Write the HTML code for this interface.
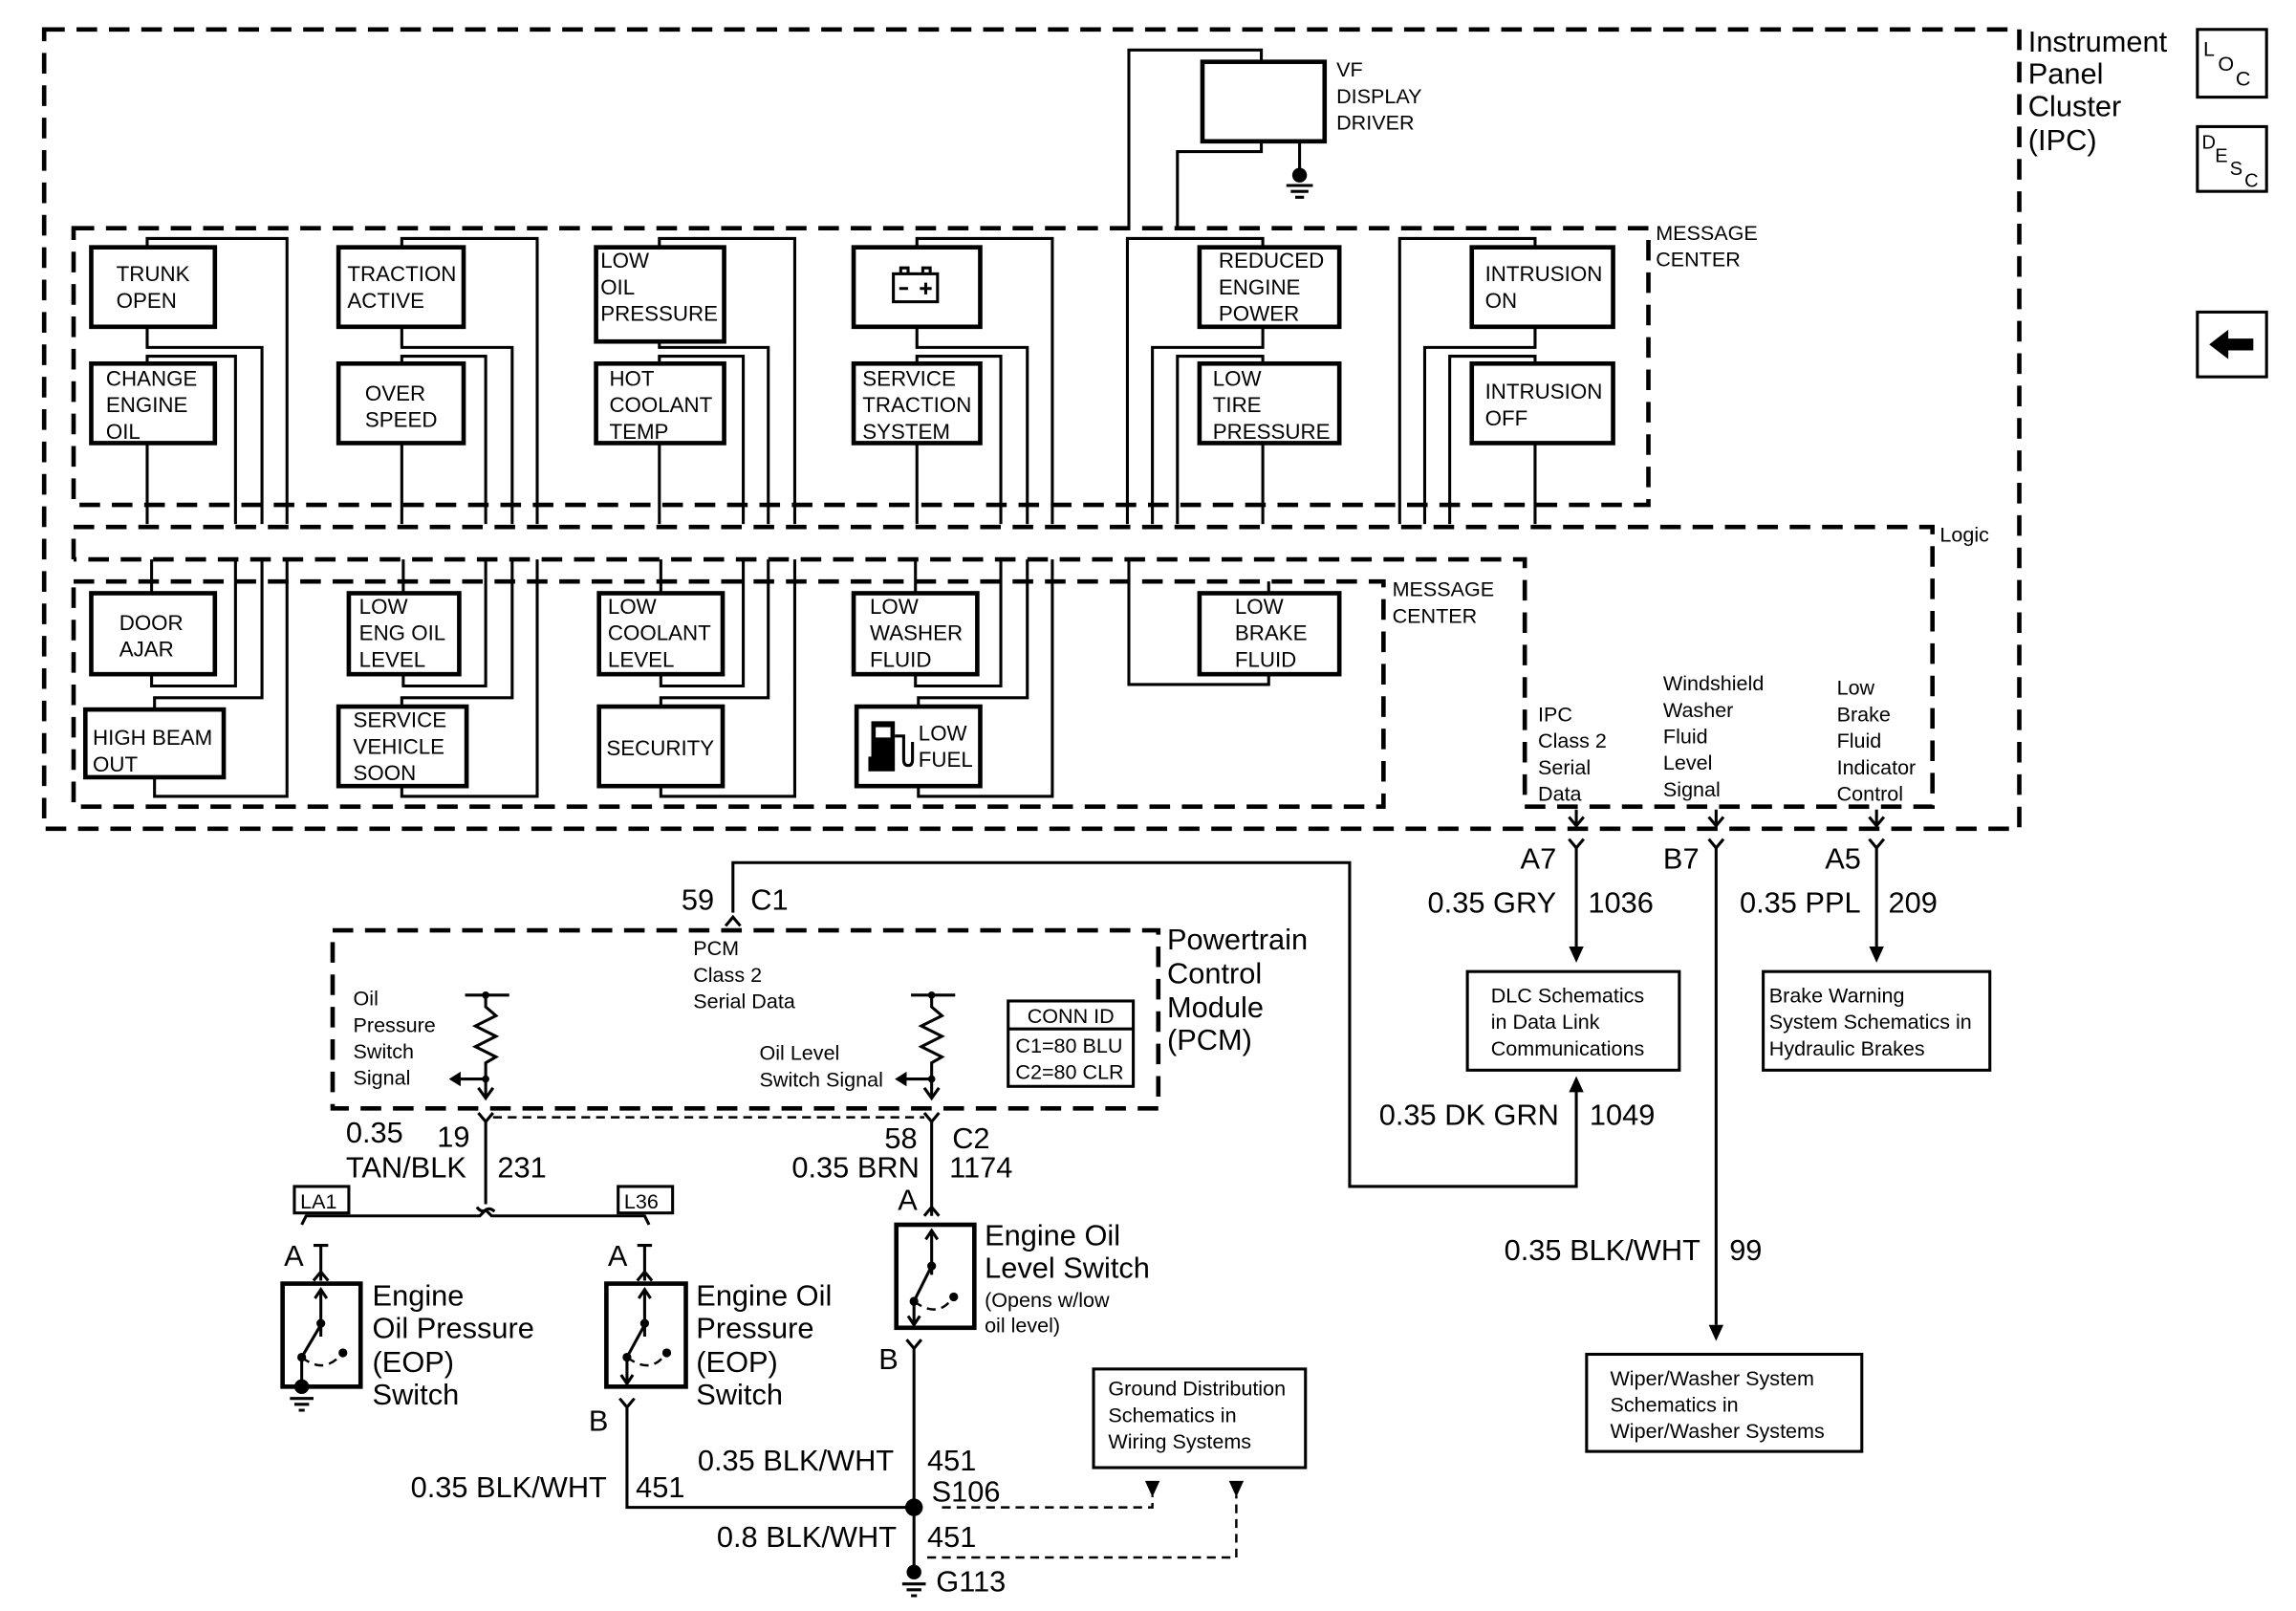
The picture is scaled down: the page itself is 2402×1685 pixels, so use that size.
<!DOCTYPE html>
<html><head><meta charset="utf-8"><style>
html,body{margin:0;padding:0;background:#fff;}
svg{display:block;}
text{font-family:"Liberation Sans",Arial,sans-serif;fill:#000;}
.b{fill:none;stroke:#000;stroke-width:3;}
.w{fill:none;stroke:#000;stroke-width:2;}
.d{fill:none;stroke:#000;stroke-width:3;stroke-dasharray:14 8;}
.t{fill:none;stroke:#000;stroke-width:1.6;stroke-dasharray:6 4;}
.s{font-size:14.5px;}
.m{font-size:14px;}
.l{font-size:20px;}
</style></head><body>
<svg width="2402" height="1685" viewBox="0 0 1560 1094.4" preserveAspectRatio="none" xmlns="http://www.w3.org/2000/svg">
<!-- outer IPC -->
<rect class="d" x="30" y="20" width="1342" height="543"/>
<text class="l" x="1378" y="35">Instrument</text>
<text class="l" x="1378" y="57">Panel</text>
<text class="l" x="1378" y="79">Cluster</text>
<text class="l" x="1378" y="102">(IPC)</text>
<!-- LOC / DESC / arrow icons -->
<rect class="w" x="1493" y="20" width="47" height="46"/>
<text x="1497" y="38" style="font-size:14px">L</text><text x="1507" y="48" style="font-size:14px">O</text><text x="1519" y="58" style="font-size:14px">C</text>
<rect class="w" x="1493" y="86" width="47" height="44"/>
<text x="1496" y="101" style="font-size:13px">D</text><text x="1505" y="110" style="font-size:13px">E</text><text x="1515" y="119" style="font-size:13px">S</text><text x="1525" y="127" style="font-size:13px">C</text>
<rect class="w" x="1493" y="212" width="47" height="44"/>
<path d="M1501 234 L1514 224 L1514 230 L1531 230 L1531 238 L1514 238 L1514 244 Z" fill="#000"/>

<!-- VF display driver -->
<rect class="b" x="817" y="42" width="83" height="54"/>
<text class="m" x="908" y="52">VF</text>
<text class="m" x="908" y="70">DISPLAY</text>
<text class="m" x="908" y="88">DRIVER</text>
<path class="w" d="M857 42 V34 H767 V155"/>
<path class="w" d="M857 96 V103 H800 V155"/>
<path class="w" d="M883 96 V118"/>
<circle cx="883" cy="119" r="5"/>
<path class="w" d="M874 126 H892 M877 130 H889 M880 134 H886"/>

<!-- Message center 1 -->
<rect class="d" x="50" y="155" width="1070" height="188"/>
<text class="m" x="1125" y="163">MESSAGE</text>
<text class="m" x="1125" y="181">CENTER</text>
<!-- logic -->
<path class="d" d="M50 380 V358 H1313 V548 H1036 V380 H50"/>
<text class="m" x="1318" y="368">Logic</text>
<!-- Message center 2 -->
<rect class="d" x="50" y="395" width="890" height="153"/>
<text class="m" x="946" y="405">MESSAGE</text>
<text class="m" x="946" y="423">CENTER</text>

<!-- top row boxes -->
<g class="b">
<rect x="62" y="168" width="84" height="54"/><rect x="62" y="247" width="84" height="54"/>
<rect x="230" y="168" width="85" height="54"/><rect x="230" y="247" width="85" height="54"/>
<rect x="405" y="168" width="87" height="64"/><rect x="405" y="247" width="87" height="54"/>
<rect x="580" y="168" width="86" height="54"/><rect x="580" y="247" width="86" height="54"/>
<rect x="815" y="168" width="95" height="54"/><rect x="815" y="247" width="95" height="54"/>
<rect x="1000" y="168" width="96" height="54"/><rect x="1000" y="247" width="96" height="54"/>
</g>
<g class="w">
<path d="M100 168V162H195V356 M100 222V236H178V356 M100 247V242H160V356 M100 301V356"/>
<path d="M273 168V162H365V356 M273 222V236H348V356 M273 247V242H330V356 M273 301V356"/>
<path d="M448 168V162H540V356 M448 232V236H522V356 M448 247V242H505V356 M448 301V356"/>
<path d="M623 168V162H715V356 M623 222V236H698V356 M623 247V242H680V356 M623 301V356"/>
<path d="M858 168V162H766V356 M858 222V236H783V356 M858 247V242H800V356 M858 301V356"/>
<path d="M1043 168V162H951V356 M1043 222V236H968V356 M1043 247V242H985V356 M1043 301V356"/>
</g>
<g class="s">
<text x="79" y="191">TRUNK</text><text x="79" y="209">OPEN</text>
<text x="72" y="262">CHANGE</text><text x="72" y="280">ENGINE</text><text x="72" y="298">OIL</text>
<text x="236" y="191">TRACTION</text><text x="236" y="209">ACTIVE</text>
<text x="248" y="272">OVER</text><text x="248" y="290">SPEED</text>
<text x="408" y="182">LOW</text><text x="408" y="200">OIL</text><text x="408" y="218">PRESSURE</text>
<text x="414" y="262">HOT</text><text x="414" y="280">COOLANT</text><text x="414" y="298">TEMP</text>
<text x="586" y="262">SERVICE</text><text x="586" y="280">TRACTION</text><text x="586" y="298">SYSTEM</text>
<text x="828" y="182">REDUCED</text><text x="828" y="200">ENGINE</text><text x="828" y="218">POWER</text>
<text x="824" y="262">LOW</text><text x="824" y="280">TIRE</text><text x="824" y="298">PRESSURE</text>
<text x="1009" y="191">INTRUSION</text><text x="1009" y="209">ON</text>
<text x="1009" y="271">INTRUSION</text><text x="1009" y="289">OFF</text>
</g>
<!-- battery icon -->
<rect class="w" x="607" y="186" width="30" height="19"/>
<path class="w" d="M612 186V182H617V186 M627 186V182H632V186 M611 196H617 M625 196H633 M629 192V200"/>

<!-- bottom row boxes -->
<g class="b">
<rect x="62" y="403" width="84" height="55"/><rect x="58" y="482" width="94" height="46"/>
<rect x="237" y="403" width="75" height="55"/><rect x="230" y="480" width="87" height="54"/>
<rect x="407" y="403" width="84" height="55"/><rect x="407" y="480" width="84" height="54"/>
<rect x="580" y="403" width="84" height="55"/><rect x="582" y="480" width="84" height="54"/>
<rect x="815" y="403" width="95" height="55"/>
</g>
<g class="w">
<path d="M103 403V380 M103 458V466H160V380 M105 482V474H178V380 M105 528V541H195V380"/>
<path d="M274 403V380 M274 458V466H330V380 M273 480V474H348V380 M273 534V541H365V380"/>
<path d="M449 403V380 M449 458V466H505V380 M449 480V474H522V380 M449 534V541H540V380"/>
<path d="M622 403V380 M622 458V466H680V380 M624 480V474H698V380 M624 534V541H715V380"/>
<path d="M862 403V395 M862 458V465H767V380"/>
</g>
<g class="s">
<text x="81" y="428">DOOR</text><text x="81" y="446">AJAR</text>
<text x="63" y="506">HIGH BEAM</text><text x="63" y="524">OUT</text>
<text x="244" y="417">LOW</text><text x="244" y="435">ENG OIL</text><text x="244" y="453">LEVEL</text>
<text x="240" y="494">SERVICE</text><text x="240" y="512">VEHICLE</text><text x="240" y="530">SOON</text>
<text x="413" y="417">LOW</text><text x="413" y="435">COOLANT</text><text x="413" y="453">LEVEL</text>
<text x="412" y="513">SECURITY</text>
<text x="591" y="417">LOW</text><text x="591" y="435">WASHER</text><text x="591" y="453">FLUID</text>
<text x="624" y="503">LOW</text><text x="624" y="521">FUEL</text>
<text x="839" y="417">LOW</text><text x="839" y="435">BRAKE</text><text x="839" y="453">FLUID</text>
</g>
<!-- fuel pump icon -->
<path d="M592 490H608V524H590V514H592Z" fill="#000"/>
<rect x="595" y="494" width="10" height="7" fill="#fff"/>
<path class="w" d="M608 500H614V516Q614 520 617 520Q620 520 620 516V504"/>

<!-- logic labels -->
<g class="m">
<text x="1045" y="490">IPC</text><text x="1045" y="508">Class 2</text><text x="1045" y="526">Serial</text><text x="1045" y="544">Data</text>
<text x="1130" y="469">Windshield</text><text x="1130" y="487">Washer</text><text x="1130" y="505">Fluid</text><text x="1130" y="523">Level</text><text x="1130" y="541">Signal</text>
<text x="1248" y="472">Low</text><text x="1248" y="490">Brake</text><text x="1248" y="508">Fluid</text><text x="1248" y="526">Indicator</text><text x="1248" y="544">Control</text>
</g>
<!-- output pins arrows -->
<g class="w">
<path d="M1071 550V560 M1066 555L1071 561L1076 555 M1066 570L1071 576L1076 570"/>
<path d="M1166 550V560 M1161 555L1166 561L1171 555 M1161 570L1166 576L1171 570"/>
<path d="M1275 550V560 M1270 555L1275 561L1280 555 M1270 570L1275 576L1280 570"/>
<path d="M1071 576V645 M1275 576V645 M1166 576V900"/>
</g>
<path d="M1066 643L1071 654L1076 643Z M1270 643L1275 654L1280 643Z M1161 900L1166 911L1171 900Z"/>
<g class="l">
<text x="1033" y="590">A7</text><text x="970" y="620">0.35 GRY</text><text x="1079" y="620">1036</text>
<text x="1130" y="590">B7</text>
<text x="1240" y="590">A5</text><text x="1182" y="620">0.35 PPL</text><text x="1283" y="620">209</text>
<text x="937" y="764">0.35 DK GRN</text><text x="1080" y="764">1049</text>
<text x="1022" y="856">0.35 BLK/WHT</text><text x="1175" y="856">99</text>
</g>
<rect class="w" x="997" y="660" width="144" height="67"/>
<g class="m"><text x="1013" y="681">DLC Schematics</text><text x="1013" y="699">in Data Link</text><text x="1013" y="717">Communications</text></g>
<rect class="w" x="1198" y="660" width="154" height="67"/>
<g class="m"><text x="1202" y="681">Brake Warning</text><text x="1202" y="699">System Schematics in</text><text x="1202" y="717">Hydraulic Brakes</text></g>
<rect class="w" x="1078" y="920" width="187" height="66"/>
<g class="m"><text x="1094" y="941">Wiper/Washer System</text><text x="1094" y="959">Schematics in</text><text x="1094" y="977">Wiper/Washer Systems</text></g>

<!-- PCM serial data wire -->
<path class="w" d="M498 620V586H917V806H1071V740"/>
<path d="M1066 742L1071 731L1076 742Z"/>
<path class="w" d="M493 629L498 623L503 629"/>
<text class="l" x="463" y="618">59</text><text class="l" x="510" y="618">C1</text>

<!-- PCM box -->
<rect class="d" x="226" y="632" width="561" height="121"/>
<g class="l"><text x="793" y="645">Powertrain</text><text x="793" y="668">Control</text><text x="793" y="691">Module</text><text x="793" y="713">(PCM)</text></g>
<g class="m"><text x="471" y="649">PCM</text><text x="471" y="667">Class 2</text><text x="471" y="685">Serial Data</text></g>
<g class="m"><text x="240" y="683">Oil</text><text x="240" y="701">Pressure</text><text x="240" y="719">Switch</text><text x="240" y="737">Signal</text></g>
<g class="m"><text x="516" y="720">Oil Level</text><text x="516" y="738">Switch Signal</text></g>
<g class="w">
<path d="M316 676H346 M330 676V684 L337 690 L323 697 L337 704 L323 711 L337 718 L330 722 V745 M330 733H312"/>
<path d="M325 739L330 746L335 739"/>
<path d="M619 676H649 M633 676V684 L640 690 L626 697 L640 704 L626 711 L640 718 L633 722 V745 M633 733H615"/>
<path d="M628 739L633 746L638 739"/>
</g>
<circle cx="330" cy="676" r="2.5"/><circle cx="330" cy="733" r="2.5"/><circle cx="633" cy="676" r="2.5"/><circle cx="633" cy="733" r="2.5"/>
<path d="M305 733L313 728L313 738Z M608 733L616 728L616 738Z"/>
<rect class="w" x="685" y="680" width="85" height="58"/>
<path class="w" d="M685 699H770"/>
<g class="m"><text x="698" y="695">CONN ID</text><text x="690" y="715">C1=80 BLU</text><text x="690" y="733">C2=80 CLR</text></g>
<path class="t" d="M335 759H628"/>

<!-- left wire -->
<g class="w">
<path d="M325 756L330 762L335 756 M330 762V818 M324 820Q327 824 330 822Q333 820 336 823"/>
<path d="M205 832L208 826H326L330 822L334 826H438L441 832"/>
<path d="M218 845V870 M213 846H223 M213 870L218 864L223 870"/>
<path d="M438 845V870 M433 846H443 M433 870L438 864L443 870"/>
</g>
<rect class="w" x="200" y="806" width="37" height="18"/><text class="m" x="204" y="821">LA1</text>
<rect class="w" x="420" y="806" width="37" height="18"/><text class="m" x="424" y="821">L36</text>
<g class="l">
<text x="235" y="776">0.35</text><text x="297" y="779">19</text><text x="235" y="800">TAN/BLK</text><text x="338" y="800">231</text>
<text x="193" y="860">A</text><text x="413" y="860">A</text>
</g>
<!-- EOP switch 1 -->
<rect class="b" x="192" y="872" width="53" height="70"/>
<g class="w">
<path d="M218 876V908 M214 882L218 876L222 882 M218 900L205 922 M205 922V942"/>
<path class="t" d="M205 922Q220 934 232 920"/>
</g>
<circle cx="218" cy="899" r="3"/><circle cx="205" cy="922" r="3"/><circle cx="233" cy="919" r="3"/>
<circle cx="205" cy="942" r="5"/>
<path class="w" d="M197 950H213 M200 954H210 M203 958H207"/>
<g class="l"><text x="253" y="887">Engine</text><text x="253" y="909">Oil Pressure</text><text x="253" y="932">(EOP)</text><text x="253" y="954">Switch</text></g>
<!-- EOP switch 2 -->
<rect class="b" x="412" y="872" width="54" height="70"/>
<g class="w">
<path d="M438 876V908 M434 882L438 876L442 882 M438 900L426 922 M426 922V940 M422 934L426 940L430 934"/>
<path class="t" d="M426 922Q442 934 452 920"/>
<path d="M421 950L426 956L431 950 M426 956V1024H621"/>
</g>
<circle cx="438" cy="899" r="3"/><circle cx="426" cy="922" r="3"/><circle cx="453" cy="919" r="3"/>
<g class="l"><text x="473" y="887">Engine Oil</text><text x="473" y="909">Pressure</text><text x="473" y="932">(EOP)</text><text x="473" y="954">Switch</text>
<text x="400" y="972">B</text></g>

<!-- oil level switch wire -->
<g class="w">
<path d="M628 756L633 762L638 756 M633 762V826 M628 826L633 820L638 826"/>
</g>
<g class="l"><text x="601" y="780">58</text><text x="647" y="780">C2</text><text x="538" y="800">0.35 BRN</text><text x="645" y="800">1174</text><text x="610" y="822">A</text><text x="597" y="930">B</text></g>
<rect class="b" x="609" y="832" width="53" height="70"/>
<g class="w">
<path d="M633 836V866 M629 842L633 836L637 842 M633 860L621 884 M621 884V900 M617 894L621 900L625 894"/>
<path class="t" d="M621 884Q637 896 647 882"/>
<path d="M616 910L621 916L626 910 M621 916V1068"/>
</g>
<circle cx="633" cy="860" r="3"/><circle cx="621" cy="884" r="3"/><circle cx="648" cy="881" r="3"/>
<g class="l"><text x="669" y="846">Engine Oil</text><text x="669" y="868">Level Switch</text></g>
<g class="m"><text x="669" y="888">(Opens w/low</text><text x="669" y="905">oil level)</text></g>
<circle cx="621" cy="1024" r="6"/>
<circle cx="621" cy="1068" r="5"/>
<path class="w" d="M613 1076H629 M616 1080H626 M619 1084H623"/>
<g class="l">
<text x="474" y="999">0.35 BLK/WHT</text><text x="630" y="999">451</text>
<text x="633" y="1020">S106</text>
<text x="279" y="1017">0.35 BLK/WHT</text><text x="432" y="1017">451</text>
<text x="487" y="1051">0.8 BLK/WHT</text><text x="630" y="1051">451</text>
<text x="636" y="1081">G113</text>
</g>
<path class="t" d="M640 1024H783V1016 M630 1058H840V1016"/>
<path d="M778 1006H788L783 1017Z M835 1006H845L840 1017Z"/>
<rect class="w" x="743" y="930" width="144" height="67"/>
<g class="m"><text x="753" y="948">Ground Distribution</text><text x="753" y="966">Schematics in</text><text x="753" y="984">Wiring Systems</text></g>
</svg>
</body></html>
